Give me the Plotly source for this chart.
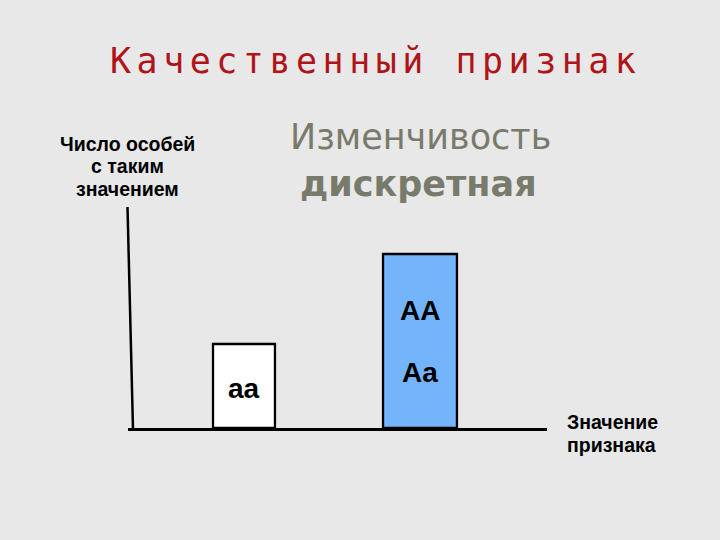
import plotly.graph_objects as go

# ---- data ----
genotypes = ["aa", "AA, Aa"]
counts = [42, 87]
bar_colors = ["#ffffff", "#74b4fa"]
bar_labels = [("aa", 0, 20.0), ("AA", 1, 59.0), ("Aa", 1, 27.6)]

title_text = "Качественный признак"
subtitle_1 = "Изменчивость"
subtitle_2 = "дискретная"
y_title_lines = ["Число особей", "с таким", "значением"]
x_title_lines = ["Значение", "признака"]

# ---- layout geometry (pixels) ----
L, R, T, B = 128, 547, 207, 428
W, H = R - L, B - T


def px(x):
    return (x - L) / W


def py(y):
    return (B - y) / H


fig = go.Figure(
    go.Bar(
        x=genotypes,
        y=counts,
        width=[0.352, 0.420],
        marker=dict(color=bar_colors, line=dict(color="black", width=2.3)),
        hoverinfo="skip",
    )
)

annotations = []
for txt, xi, yv in bar_labels:
    annotations.append(
        dict(
            text="<b>%s</b>" % txt,
            x=genotypes[xi], y=yv, xref="x", yref="y",
            showarrow=False, xanchor="center", yanchor="middle",
            font=dict(family="Liberation Sans", size=28, color="black"),
        )
    )

annotations += [
    dict(
        text='<span style="letter-spacing:5.5px">%s</span>' % title_text,
        x=px(375), y=py(60.6), xref="paper", yref="paper",
        showarrow=False, xanchor="center", yanchor="middle",
        font=dict(family="DejaVu Sans Mono", size=35, color="#b01418"),
    ),
    dict(
        text=subtitle_1,
        x=px(420), y=py(136.8), xref="paper", yref="paper",
        showarrow=False, xanchor="center", yanchor="middle",
        font=dict(family="DejaVu Sans", size=35, color="#787b6b"),
    ),
    dict(
        text="<b>%s</b>" % subtitle_2,
        x=px(418), y=py(183.5), xref="paper", yref="paper",
        showarrow=False, xanchor="center", yanchor="middle",
        font=dict(family="DejaVu Sans", size=35, color="#787b6b"),
    ),
]

for i, line in enumerate(y_title_lines):
    annotations.append(
        dict(
            text="<b>%s</b>" % line,
            x=px(127.5), y=py(143.9 + 22.5 * i), xref="paper", yref="paper",
            showarrow=False, xanchor="center", yanchor="middle",
            font=dict(family="Liberation Sans", size=19.5, color="black"),
        )
    )

for i, line in enumerate(x_title_lines):
    annotations.append(
        dict(
            text="<b>%s</b>" % line,
            x=px(565), y=py(421.7 + 23.5 * i), xref="paper", yref="paper",
            showarrow=False, xanchor="left", yanchor="middle",
            font=dict(family="Liberation Sans", size=19.5, color="black"),
        )
    )

fig.update_layout(
    width=720,
    height=540,
    margin=dict(l=L, r=720 - R, t=T, b=540 - B, pad=0),
    paper_bgcolor="#e8e8e8",
    plot_bgcolor="#e8e8e8",
    showlegend=False,
    annotations=annotations,
    xaxis=dict(
        range=[-0.659, 1.7216],
        showline=True, linecolor="black", linewidth=2.5,
        showticklabels=False, ticks="", showgrid=False, zeroline=False,
        fixedrange=True,
    ),
    yaxis=dict(
        range=[0, 110.5], visible=False, showgrid=False, zeroline=False,
        fixedrange=True,
    ),
    shapes=[
        dict(
            type="line", xref="paper", yref="paper",
            x0=px(127.5), y0=py(207), x1=px(133), y1=py(429),
            line=dict(color="black", width=2.5),
        )
    ],
)

fig.write_html(
    "out.html",
    config={"displayModeBar": False},
    post_script="document.body.style.margin='0px';",
)
